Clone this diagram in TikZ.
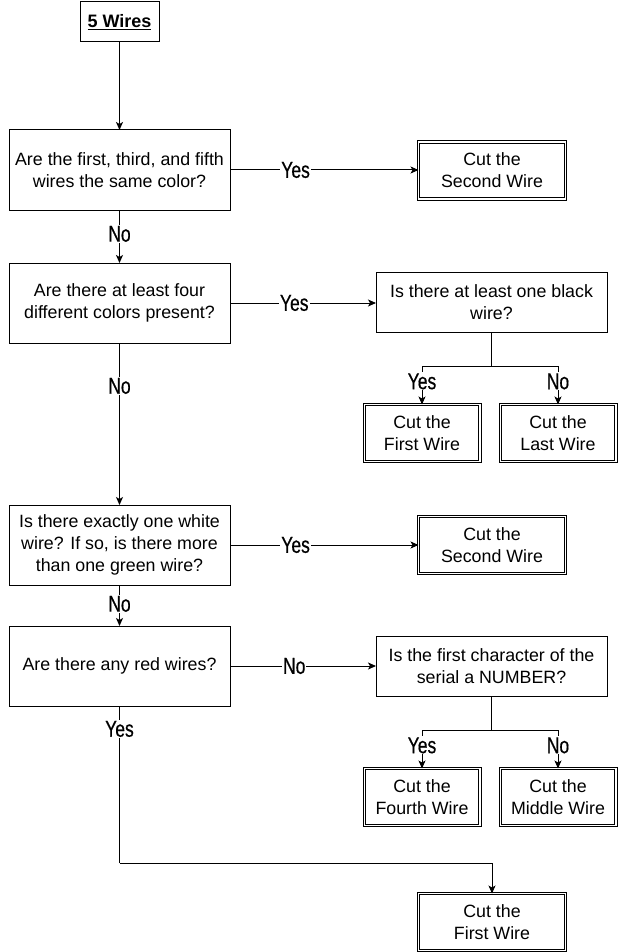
\documentclass[tikz,border=0pt]{standalone}
\usepackage{fontspec}
\setmainfont{Liberation Sans}
\newfontfamily\lblfamily{Liberation Sans}[FakeStretch=0.76,FakeBold=0.5]
\usetikzlibrary{arrows.meta}
\newcommand{\bodyfont}{\fontsize{17.8}{22}\selectfont}
\newcommand{\lblfont}{\lblfamily\fontsize{23}{26}\selectfont}
\begin{document}
\begin{tikzpicture}[x=1pt,y=-1pt,
  every node/.style={inner sep=0pt, outer sep=0pt},
  qbox/.style={draw, line width=1pt, minimum width=221, minimum height=80, align=center, font=\bodyfont},
  wbox/.style={draw, line width=1pt, minimum width=231, minimum height=60, align=center, font=\bodyfont},
  dbox/.style={draw, line width=1pt, double=white, double distance=1.6pt, align=center, font=\bodyfont, minimum height=57},
  arr/.style={draw, line width=1pt, -{Stealth[length=8pt,width=7pt,inset=2pt]}},
  ln/.style={draw, line width=1pt},
  lbl/.style={fill=white, font=\lblfont, inner sep=1pt}
]
\useasboundingbox (0,0) rectangle (636,952);

\node[draw, line width=1pt, minimum width=79, minimum height=39.5, font=\fontsize{18}{22}\selectfont\bfseries] (title) at (119.5,21.75) {\underline{5 Wires}};

\node[qbox] (q1) at (119.5,170) {Are the first, third, and fifth\\wires the same color?};
\node[dbox, minimum width=147] (a1) at (492,170.5) {Cut the\\Second Wire};

\node[qbox] (q2) at (119.5,303) {Are there at least four\\different colors present?};
\node[wbox] (q2b) at (491.5,302) {Is there at least one black\\wire?};
\node[dbox, minimum width=115.4] (c1) at (422,433) {Cut the\\First Wire};
\node[dbox, minimum width=115.4] (c2) at (558,433) {Cut the\\Last Wire};

\node[qbox] (q3) at (119.5,545) {Is there exactly one white\\wire? If so, is there more\\than one green wire?};
\node[dbox, minimum width=147] (a3) at (492,545) {Cut the\\Second Wire};

\node[qbox] (q4) at (119.5,666) {Are there any red wires?};
\node[wbox] (q4b) at (491.5,666) {Is the first character of the\\serial a NUMBER?};
\node[dbox, minimum width=115.4] (c3) at (422,797) {Cut the\\Fourth Wire};
\node[dbox, minimum width=115.4] (c4) at (558,797) {Cut the\\Middle Wire};

\node[dbox, minimum width=147] (fin) at (492,922) {Cut the\\First Wire};

% connectors
\draw[arr] (title.south) -- (q1.north);
\draw[arr] (q1.east) -- node[lbl, pos=0.348] {Yes} (a1.west |- q1.east);
\draw[arr] (q1.south) -- node[lbl, pos=0.45] {No} (q2.north);
\draw[arr] (q2.east) -- node[lbl, pos=0.44] {Yes} (q2.east -| q2b.west);
\draw[ln] (q2b.south) -- ++(0,34) coordinate (j1);
\draw[arr] (j1) -| node[lbl, pos=0.70] {Yes} (c1.north);
\draw[arr] (j1) -| node[lbl, pos=0.70] {No} (c2.north);
\draw[arr] (q2.south) -- node[lbl, pos=0.265] {No} (q3.north);
\draw[arr] (q3.east) -- node[lbl, pos=0.348] {Yes} (a3.west |- q3.east);
\draw[arr] (q3.south) -- node[lbl, pos=0.46] {No} (q4.north);
\draw[arr] (q4.east) -- node[lbl, pos=0.44] {No} (q4.east -| q4b.west);
\draw[ln] (q4b.south) -- ++(0,34) coordinate (j2);
\draw[arr] (j2) -| node[lbl, pos=0.70] {Yes} (c3.north);
\draw[arr] (j2) -| node[lbl, pos=0.70] {No} (c4.north);
\coordinate (k) at (119.5,863);
\draw[ln] (q4.south) -- node[lbl, pos=0.146] {Yes} (k);
\draw[arr] (k) -| (fin.north);
\end{tikzpicture}
\end{document}
